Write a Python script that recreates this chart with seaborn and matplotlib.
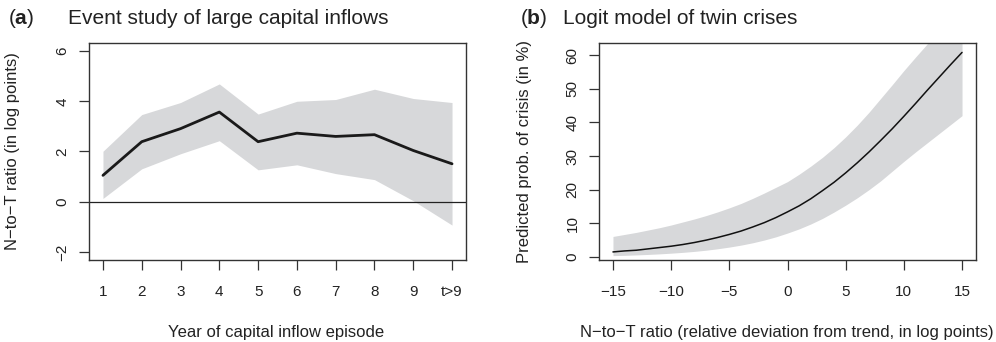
import numpy as np
import pandas as pd
import matplotlib
matplotlib.use("Agg")
import matplotlib.pyplot as plt
import seaborn as sns

# ---------------- Panel (a): event study ----------------
years = [1, 2, 3, 4, 5, 6, 7, 8, 9, 10]
year_labels = ["1", "2", "3", "4", "5", "6", "7", "8", "9", "t>9"]
event_est = [1.05, 2.39, 2.91, 3.57, 2.39, 2.73, 2.60, 2.67, 2.04, 1.51]
event_hi = [2.01, 3.47, 3.95, 4.69, 3.49, 4.00, 4.07, 4.48, 4.11, 3.95]
event_lo = [0.13, 1.31, 1.91, 2.43, 1.27, 1.47, 1.12, 0.88, 0.04, -0.93]
event_yticks = [-2, 0, 2, 4, 6]

# ---------------- Panel (b): logit model ----------------
ratio_x = [-15, -14, -13, -12, -11, -10, -9, -8, -7, -6, -5, -4, -3, -2, -1, 0,
           1, 2, 3, 4, 5, 6, 7, 8, 9, 10, 11, 12, 13, 14, 15]
prob_est = [1.5, 1.8, 2.0, 2.4, 2.8, 3.2, 3.7, 4.3, 5.0, 5.8, 6.7, 7.7, 8.9, 10.2, 11.7, 13.4,
            15.2, 17.3, 19.7, 22.2, 25.0, 28.0, 31.2, 34.6, 38.1, 41.8, 45.6, 49.5, 53.3, 57.1, 60.8]
prob_hi = [6.1, 6.7, 7.3, 8.0, 8.7, 9.5, 10.4, 11.3, 12.3, 13.4, 14.6, 15.9, 17.4, 19.0, 20.7, 22.4,
           24.6, 27.0, 29.6, 32.5, 35.7, 39.2, 43.0, 47.1, 51.2, 55.4, 59.4, 63.3, 67.0, 70.6, 73.9]
prob_lo = [0.40, 0.49, 0.61, 0.75, 0.92, 1.13, 1.37, 1.66, 2.01, 2.44, 2.94, 3.52, 4.21, 5.03, 5.98, 7.11,
           8.35, 9.8, 11.45, 13.35, 15.4, 17.6, 20.0, 22.6, 25.5, 28.4, 31.2, 33.9, 36.6, 39.3, 42.0]
ratio_xticks = [-15, -10, -5, 0, 5, 10, 15]
prob_yticks = [0, 10, 20, 30, 40, 50, 60]

df_a = pd.DataFrame({"year": years, "est": event_est, "hi": event_hi, "lo": event_lo})
df_b = pd.DataFrame({"x": ratio_x, "est": prob_est, "hi": prob_hi, "lo": prob_lo})

sns.set_style("ticks")
plt.rcParams["font.family"] = ["Liberation Sans", "DejaVu Sans"]
plt.rcParams["mathtext.fontset"] = "custom"
plt.rcParams["mathtext.rm"] = "Liberation Sans"
plt.rcParams["mathtext.bf"] = "Liberation Sans:bold"
plt.rcParams["axes.unicode_minus"] = True

TXT = "#222222"
EDGE = "#333333"
BAND = "#D7D8DA"

fig = plt.figure(figsize=(9.96, 3.42), dpi=100)
ax1 = fig.add_axes([89 / 996, 1 - 260 / 342, 377 / 996, 217 / 342])
ax2 = fig.add_axes([599 / 996, 1 - 260 / 342, 377 / 996, 217 / 342])

# Panel a
ax1.fill_between(df_a["year"], df_a["lo"], df_a["hi"], color=BAND, linewidth=0, zorder=1)
ax1.axhline(0, color="#222222", linewidth=0.9, zorder=2)
sns.lineplot(data=df_a, x="year", y="est", ax=ax1, color="#1a1a1a", linewidth=2.0, zorder=3)
ax1.set_xlim(0.64, 10.36)
ax1.set_ylim(-2.32, 6.32)
ax1.set_xticks(years)
ax1.set_xticklabels(year_labels)
ax1.set_yticks(event_yticks)
ax1.set_yticklabels([f"{v}".replace("-", "\u2212") for v in event_yticks])
ax1.set_xlabel("Year of capital inflow episode", fontsize=12, color=TXT)
ax1.set_ylabel("N\u2212to\u2212T ratio (in log points)", fontsize=12, color=TXT)
ax1.xaxis.set_label_coords(0.497, -0.298)
ax1.yaxis.set_label_coords(-0.183, 0.5)

# Panel b
ax2.fill_between(df_b["x"], df_b["lo"], df_b["hi"], color=BAND, linewidth=0, zorder=1)
sns.lineplot(data=df_b, x="x", y="est", ax=ax2, color="#111111", linewidth=1.1, zorder=3)
ax2.set_xlim(-16.2, 16.2)
ax2.set_ylim(-0.9, 63.6)
ax2.set_xticks(ratio_xticks)
ax2.set_xticklabels([f"{v}".replace("-", "\u2212") for v in ratio_xticks])
ax2.set_yticks(prob_yticks)
ax2.set_yticklabels([str(v) for v in prob_yticks])
ax2.set_xlabel("N\u2212to\u2212T ratio (relative deviation from trend, in log points)",
               fontsize=12, color=TXT)
ax2.set_ylabel("Predicted prob. of crisis (in %)", fontsize=12, color=TXT)
ax2.xaxis.set_label_coords(0.4987, -0.298)
ax2.yaxis.set_label_coords(-0.178, 0.5)

for ax in (ax1, ax2):
    for sp in ax.spines.values():
        sp.set_visible(True)
        sp.set_color(EDGE)
        sp.set_linewidth(1.0)
    ax.tick_params(axis="both", direction="out", length=7, width=0.9, color=EDGE,
                   labelsize=11, labelcolor=TXT)
    ax.tick_params(axis="x", pad=11)
    ax.tick_params(axis="y", pad=7)
    for lab in ax.get_yticklabels():
        lab.set_rotation(90)
        lab.set_va("center")
        lab.set_ha("right")

# Titles
fig.text(8 / 996, 1 - 24 / 342, r"($\mathbf{a}$)", fontsize=15, color=TXT, va="baseline", ha="left")
fig.text(68 / 996, 1 - 24 / 342, "Event study of large capital inflows", fontsize=15, color=TXT,
         va="baseline", ha="left")
fig.text(520 / 996, 1 - 24 / 342, r"($\mathbf{b}$)", fontsize=15, color=TXT, va="baseline", ha="left")
fig.text(563 / 996, 1 - 24 / 342, "Logit model of twin crises", fontsize=15, color=TXT,
         va="baseline", ha="left")

fig.savefig("out.png", dpi=100)
